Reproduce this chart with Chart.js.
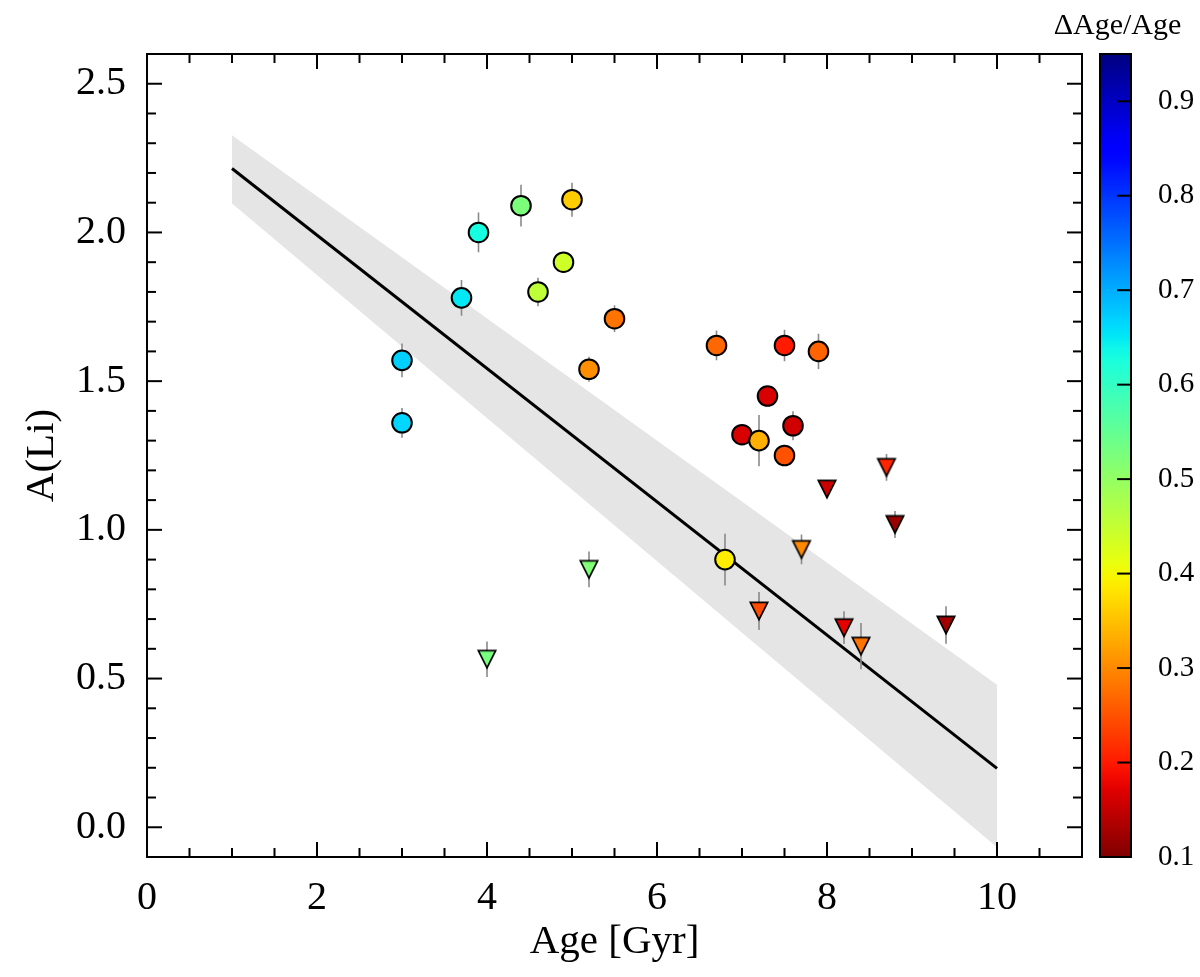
<!DOCTYPE html>
<html>
<head>
<meta charset="utf-8">
<script src="https://cdn.jsdelivr.net/npm/chart.js@4.4.1/dist/chart.umd.min.js"></script>
<style>
  html, body { margin: 0; padding: 0; background: #fff; }
  #wrap { width: 1200px; height: 977px; position: relative; }
</style>
</head>
<body>
<div id="wrap"><canvas id="chart"></canvas></div>
<script>
// Li detections (circles)
const circleAge  = [3.0, 3.0, 3.7, 3.9, 4.4, 4.6, 4.9, 5.0, 5.2, 5.5, 6.7, 6.8, 7.0, 7.2, 7.3, 7.5, 7.5, 7.6, 7.9];
const circleALi  = [1.57, 1.36, 1.78, 2.00, 2.09, 1.80, 1.90, 2.11, 1.54, 1.71, 1.62, 0.90, 1.32, 1.30, 1.45, 1.62, 1.25, 1.35, 1.60];
const circleErr  = [0.057, 0.05, 0.06, 0.067, 0.07, 0.048, 0.03, 0.057, 0.042, 0.045, 0.05, 0.087, 0.03, 0.086, 0.03, 0.053, 0.035, 0.049, 0.059];
const circleDAge = [0.67, 0.665, 0.65, 0.63, 0.525, 0.455, 0.44, 0.36, 0.305, 0.28, 0.27, 0.39, 0.165, 0.335, 0.165, 0.20, 0.25, 0.16, 0.265];

// Li upper limits (down triangles)
const triAge  = [4.0, 5.2, 7.2, 7.7, 8.0, 8.2, 8.4, 8.7, 8.8, 9.4];
const triALi  = [0.565, 0.867, 0.727, 0.934, 1.137, 0.671, 0.609, 1.21, 1.018, 0.68];
const triErr  = [0.06, 0.06, 0.064, 0.05, 0.03, 0.055, 0.078, 0.045, 0.045, 0.063];
const triDAge = [0.53, 0.52, 0.245, 0.30, 0.155, 0.175, 0.28, 0.21, 0.12, 0.125];

// linear fit and its uncertainty band
const fitAge    = [1, 10];
const fitALi    = [2.215, 0.198];
const bandUpper = [2.327, 0.479];
const bandLower = [2.097, -0.067];

// axes
const xMajorTicks = [0, 2, 4, 6, 8, 10];
const xMinorStep = 0.5;
const yMajorTicks = [0.0, 0.5, 1.0, 1.5, 2.0, 2.5];
const yMinorStep = 0.1;
const cbarTicks = [0.1, 0.2, 0.3, 0.4, 0.5, 0.6, 0.7, 0.8, 0.9];
const cbarMin = 0.1;
const cbarMax = 0.95;

const FONT = 'Liberation Serif';

// matplotlib jet, reversed over [cbarMin, cbarMax]
const JET = {
    r: [[0, 0], [0.35, 0], [0.66, 1], [0.89, 1], [1, 0.5]],
    g: [[0, 0], [0.125, 0], [0.375, 1], [0.64, 1], [0.91, 0], [1, 0]],
    b: [[0, 0.5], [0.11, 1], [0.34, 1], [0.65, 0], [1, 0]]
};

function interp(seg, s) {
    for (let i = 1; i < seg.length; i++) {
        if (s <= seg[i][0]) {
            const [x0, y0] = seg[i - 1];
            const [x1, y1] = seg[i];
            return y0 + (y1 - y0) * (s - x0) / (x1 - x0);
        }
    }
    return seg[seg.length - 1][1];
}

function ageColor(v) {
    const t = Math.min(1, Math.max(0, (v - cbarMin) / (cbarMax - cbarMin)));
    const s = 1 - t;
    const r = Math.round(255 * interp(JET.r, s));
    const g = Math.round(255 * interp(JET.g, s));
    const b = Math.round(255 * interp(JET.b, s));
    return `rgb(${r},${g},${b})`;
}

// matplotlib-like 'v' marker as an image point style
function downTriangle(fill) {
    const c = document.createElement('canvas');
    c.width = 24;
    c.height = 24;
    const g = c.getContext('2d');
    g.beginPath();
    g.moveTo(12 - 8.7, 12 - 8.7);
    g.lineTo(12 + 8.7, 12 - 8.7);
    g.lineTo(12, 12 + 8.7);
    g.closePath();
    g.fillStyle = fill;
    g.fill();
    g.lineWidth = 1.7;
    g.strokeStyle = '#000';
    g.stroke();
    return c;
}

function toPoints(xs, ys) {
    return xs.map((x, i) => ({ x: x, y: ys[i] }));
}

function errorBarPoints(xs, ys, errs) {
    const pts = [];
    xs.forEach((x, i) => {
        pts.push({ x: x, y: ys[i] - errs[i] }, { x: x, y: ys[i] + errs[i] }, { x: x, y: null });
    });
    return pts;
}

function stepValues(min, max, step) {
    const out = [];
    const i0 = Math.ceil(min / step - 1e-9);
    const i1 = Math.floor(max / step + 1e-9);
    for (let i = i0; i <= i1; i++) out.push(+(i * step).toFixed(6));
    return out;
}

function isMajor(v, majors) {
    return majors.some(m => Math.abs(m - v) < 1e-6);
}

// keep the layout from growing around the tick labels
function fixSize(prop, size) {
    return scale => {
        scale[prop] = size;
        scale.paddingTop = 0;
        scale.paddingBottom = 0;
        scale.paddingLeft = 0;
        scale.paddingRight = 0;
    };
}

// inward ticks on all four sides, frame, colorbar
const frameAndColorbar = {
    id: 'frameAndColorbar',
    afterDraw(chart) {
        const { ctx, chartArea: a, scales } = chart;
        const xs = scales.x, ys = scales.y, cb = scales.cb;
        const line = (x1, y1, x2, y2) => {
            ctx.beginPath();
            ctx.moveTo(x1, y1);
            ctx.lineTo(x2, y2);
            ctx.stroke();
        };
        ctx.save();
        ctx.strokeStyle = '#000';
        ctx.lineWidth = 2;
        ctx.lineCap = 'butt';

        stepValues(xs.min, xs.max, xMinorStep).forEach(v => {
            if (v <= xs.min || v >= xs.max) return;
            const len = isMajor(v, xMajorTicks) ? 15 : 9;
            const px = xs.getPixelForValue(v);
            line(px, a.bottom, px, a.bottom - len);
            line(px, a.top, px, a.top + len);
        });
        stepValues(ys.min, ys.max, yMinorStep).forEach(v => {
            if (v <= ys.min || v >= ys.max) return;
            const len = isMajor(v, yMajorTicks) ? 15 : 9;
            const py = ys.getPixelForValue(v);
            line(a.left, py, a.left + len, py);
            line(a.right, py, a.right - len, py);
        });
        ctx.strokeRect(a.left, a.top, a.right - a.left, a.bottom - a.top);

        // colorbar
        const bx = cb.left + 18;
        const bw = 31;
        const top = cb.getPixelForValue(cbarMax);
        const bot = cb.getPixelForValue(cbarMin);
        const grad = ctx.createLinearGradient(0, bot, 0, top);
        for (let i = 0; i <= 60; i++) {
            const f = i / 60;
            grad.addColorStop(f, ageColor(cbarMin + f * (cbarMax - cbarMin)));
        }
        ctx.fillStyle = grad;
        ctx.fillRect(bx, top, bw, bot - top);
        ctx.strokeRect(bx, top, bw, bot - top);
        cbarTicks.forEach(v => {
            const py = cb.getPixelForValue(v);
            line(bx + bw, py, bx + bw - 14, py);
        });

        ctx.fillStyle = '#000';
        ctx.font = '30px "' + FONT + '"';
        ctx.textAlign = 'center';
        ctx.textBaseline = 'alphabetic';
        ctx.fillText('\u0394Age/Age', bx + bw / 2 + 2, 34);
        ctx.restore();
    }
};

Chart.defaults.font.family = FONT;
Chart.defaults.color = '#000';

const ctx = document.getElementById('chart').getContext('2d');

new Chart(ctx, {
    type: 'scatter',
    data: {
        datasets: [
            {
                label: 'A(Li)',
                data: toPoints(circleAge, circleALi),
                pointStyle: 'circle',
                pointRadius: 9.8,
                pointBackgroundColor: circleDAge.map(ageColor),
                pointBorderColor: '#000',
                pointBorderWidth: 2,
                order: 0
            },
            {
                label: 'A(Li) upper limit',
                data: toPoints(triAge, triALi),
                pointStyle: triDAge.map(v => downTriangle(ageColor(v))),
                pointRadius: 9,
                order: 0
            },
            {
                label: 'errors',
                data: errorBarPoints(circleAge.concat(triAge), circleALi.concat(triALi), circleErr.concat(triErr)),
                showLine: true,
                spanGaps: false,
                borderColor: '#8a8a8a',
                borderWidth: 1.6,
                pointRadius: 0,
                order: 1
            },
            {
                label: 'fit',
                data: toPoints(fitAge, fitALi),
                showLine: true,
                borderColor: '#000',
                borderWidth: 3,
                pointRadius: 0,
                order: 2
            },
            {
                label: 'band upper',
                data: toPoints(fitAge, bandUpper),
                showLine: true,
                borderWidth: 0,
                borderColor: 'rgba(0,0,0,0)',
                backgroundColor: '#e5e5e5',
                fill: '+1',
                pointRadius: 0,
                order: 3
            },
            {
                label: 'band lower',
                data: toPoints(fitAge, bandLower),
                showLine: true,
                borderWidth: 0,
                borderColor: 'rgba(0,0,0,0)',
                pointRadius: 0,
                order: 3
            }
        ]
    },
    options: {
        responsive: true,
        maintainAspectRatio: false,
        animation: false,
        events: [],
        layout: { padding: { top: 54, right: 0, bottom: 0, left: 0 } },
        plugins: {
            legend: { display: false },
            tooltip: { enabled: false }
        },
        scales: {
            x: {
                type: 'linear',
                position: 'bottom',
                min: 0,
                max: 11,
                grid: { display: false },
                border: { display: false },
                afterBuildTicks: scale => { scale.ticks = xMajorTicks.map(v => ({ value: v })); },
                afterFit: fixSize('height', 120),
                ticks: {
                    padding: 9,
                    maxRotation: 0,
                    font: { family: FONT, size: 40 },
                    callback: v => String(v)
                },
                title: {
                    display: true,
                    text: 'Age [Gyr]',
                    font: { family: FONT, size: 41 },
                    padding: { top: 0, bottom: 10 }
                }
            },
            y: {
                type: 'linear',
                position: 'left',
                min: -0.1,
                max: 2.6,
                grid: { display: false },
                border: { display: false },
                afterBuildTicks: scale => { scale.ticks = yMajorTicks.map(v => ({ value: v })); },
                afterFit: fixSize('width', 147),
                ticks: {
                    padding: 13,
                    font: { family: FONT, size: 40 },
                    callback: v => v.toFixed(1)
                },
                title: {
                    display: true,
                    text: 'A(Li)',
                    font: { family: FONT, size: 41 },
                    padding: { top: 18, bottom: 0 }
                }
            },
            cb: {
                type: 'linear',
                position: 'right',
                min: cbarMin,
                max: cbarMax,
                grid: { display: false },
                border: { display: false },
                afterBuildTicks: scale => { scale.ticks = cbarTicks.map(v => ({ value: v })); },
                afterFit: fixSize('width', 118),
                ticks: {
                    padding: 68,
                    font: { family: FONT, size: 29 },
                    callback: v => v.toFixed(1)
                }
            }
        }
    },
    plugins: [frameAndColorbar]
});
</script>
</body>
</html>
